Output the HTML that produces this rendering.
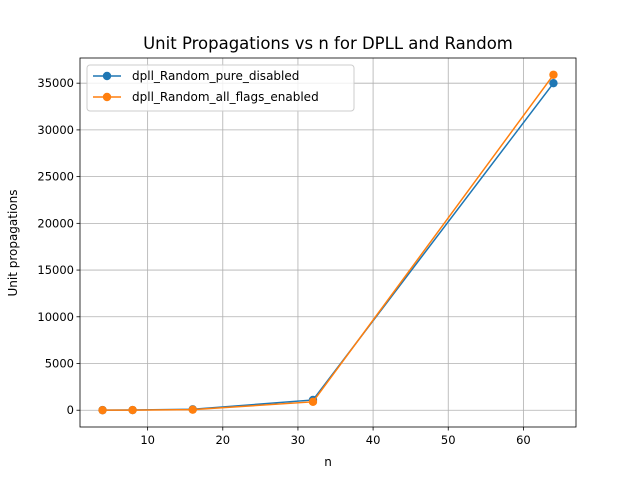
<!DOCTYPE html>
<html><head><meta charset="utf-8"><style>body{margin:0;background:#fff}svg text{font-family:"DejaVu Sans","Liberation Sans",sans-serif}</style></head>
<body>
<svg id="chart" width="640" height="480">
<rect width="640" height="480" fill="#fff"/>
<g id="grid"></g><g id="axes"></g><g id="series"></g>
<text x="328" y="49" text-anchor="middle" font-size="16.5">Unit Propagations vs n for DPLL and Random</text>
<text x="328" y="466" text-anchor="middle" font-size="12">n</text>
<text x="17" y="243" text-anchor="middle" font-size="12" transform="rotate(-90 17 243)">Unit propagations</text>
<g>
<rect x="87" y="65" width="267" height="46" rx="3" fill="#fff" fill-opacity="0.8" stroke="#ccc"/>
<line x1="93" y1="76" x2="121" y2="76" stroke="#1f77b4" stroke-width="1.5"/><circle cx="107" cy="76" r="4.2" fill="#1f77b4"/>
<text x="132" y="80" font-size="12">dpll_Random_pure_disabled</text>
<line x1="93" y1="97" x2="121" y2="97" stroke="#ff7f0e" stroke-width="1.5"/><circle cx="107" cy="97" r="4.2" fill="#ff7f0e"/>
<text x="132" y="101" font-size="12">dpll_Random_all_flags_enabled</text>
</g>
</svg>
<script>
const nValues=[4,8,16,32,64];
const pureDisabled=[10,20,100,1100,35000];
const allFlags=[5,15,60,900,35900];
const xTicks=[10,20,30,40,50,60];
const yTicks=[0,5000,10000,15000,20000,25000,30000,35000];
const L=80,R=576,T=58,B=427,xmin=1,xmax=67,ymin=-1795,ymax=37695;
const X=v=>L+(v-xmin)/(xmax-xmin)*(R-L);
const Y=v=>B-(v-ymin)/(ymax-ymin)*(B-T);
const NS="http://www.w3.org/2000/svg";
function mk(p,t,a){const e=document.createElementNS(NS,t);for(const k in a)e.setAttribute(k,a[k]);p.appendChild(e);return e;}
const grid=document.getElementById('grid'),axes=document.getElementById('axes'),ser=document.getElementById('series');
xTicks.forEach(t=>{const x=X(t);
const g=mk(grid,'line',{x1:x,x2:x,y1:T,y2:B,stroke:'#b0b0b0','stroke-width':0.8});

mk(axes,'line',{x1:x,x2:x,y1:B,y2:B+3.5,stroke:'#000','stroke-width':0.8});
const tx=mk(axes,'text',{x:x,y:B+17,'text-anchor':'middle','font-size':11.5});tx.textContent=t;
});
yTicks.forEach(t=>{const y=Y(t);
const g=mk(grid,'line',{x1:L,x2:R,y1:y,y2:y,stroke:'#b0b0b0','stroke-width':0.8});

mk(axes,'line',{x1:L-3.5,x2:L,y1:y,y2:y,stroke:'#000','stroke-width':0.8});
const tx=mk(axes,'text',{x:L-6,y:y+4,'text-anchor':'end','font-size':11.5});tx.textContent=t;
});
const fr=mk(axes,'rect',{x:L,y:T,width:R-L,height:B-T,fill:'none',stroke:'#000','stroke-width':0.8});

[[pureDisabled,'#1f77b4','pure-disabled'],[allFlags,'#ff7f0e','all-flags-enabled']].forEach(([d,c,n])=>{
const pl=mk(ser,'polyline',{points:d.map((v,i)=>X(nValues[i])+','+Y(v)).join(' '),fill:'none',stroke:c,'stroke-width':1.5});

d.forEach((v,i)=>{const p=mk(ser,'circle',{cx:X(nValues[i]),cy:Y(v),r:4.2,fill:c});
});});
</script>
</body></html>
